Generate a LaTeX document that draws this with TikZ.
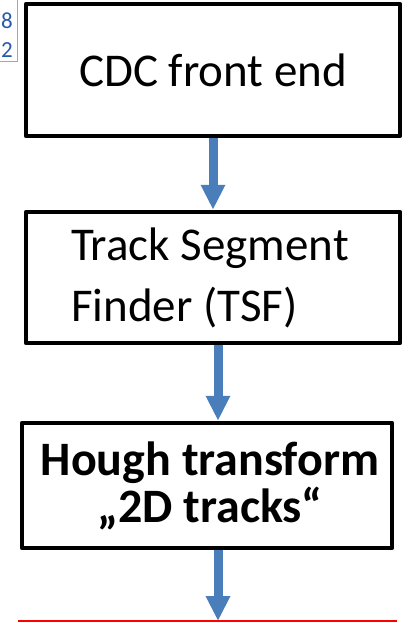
\documentclass[tikz,border=0pt]{standalone}
\usepackage{fontspec}
\setmainfont{Carlito}
\usetikzlibrary{arrows.meta}
\definecolor{flowblue}{RGB}{74,126,187}
\definecolor{cellblue}{RGB}{40,90,170}
\tikzset{
  stagebox/.style={draw, line width=4.5pt, line join=round, inner sep=0pt},
  flowarrow/.style={flowblue, line width=9pt,
    -{Triangle[width=23pt,length=25pt]}},
  cellnum/.style={text=cellblue, font=\fontsize{23}{25}\selectfont, anchor=east, inner sep=0pt}
}
\begin{document}
\begin{tikzpicture}[x=1pt, y=-1pt]
  \useasboundingbox (0, 0) rectangle (410, 623);
  \draw[gray!70, line width=1pt] (17, 0) -- (17, 62) -- (0, 62);
  \node[cellnum] (n8) at (13, 21) {8};
  \node[cellnum] (n2) at (13, 50) {2};
  \node[stagebox, minimum width=374pt, minimum height=132pt,
    font=\fontsize{47}{56}\selectfont] (cdc) at (213, 70) {CDC front end};
  \node[stagebox, minimum width=374pt, minimum height=131pt,
    text width=284pt, inner xsep=45pt, align=flush left,
    font=\fontsize{47}{61}\selectfont] (tsf) at (213, 277.5)
    {Track Segment\\Finder (TSF)};
  \node[stagebox, minimum width=370pt, minimum height=125pt, align=flush center,
    font=\bfseries\fontsize{48}{47}\selectfont] (hough) at (207, 485.5)
    {\hspace*{6pt}Hough transform\\\hspace*{6pt}„2D tracks“};
  \coordinate (cut) at (218, 621);
  \draw[red, line width=1.5pt] (18, 621) -- (397, 621);
  \draw[flowarrow] (cdc.south) -- (tsf.north);
  \draw[flowarrow] ([xshift=5pt]tsf.south) -- ([xshift=5pt]tsf.south |- hough.north);
  \draw[flowarrow] (hough.south -| cut) -- (cut);
\end{tikzpicture}
\end{document}
